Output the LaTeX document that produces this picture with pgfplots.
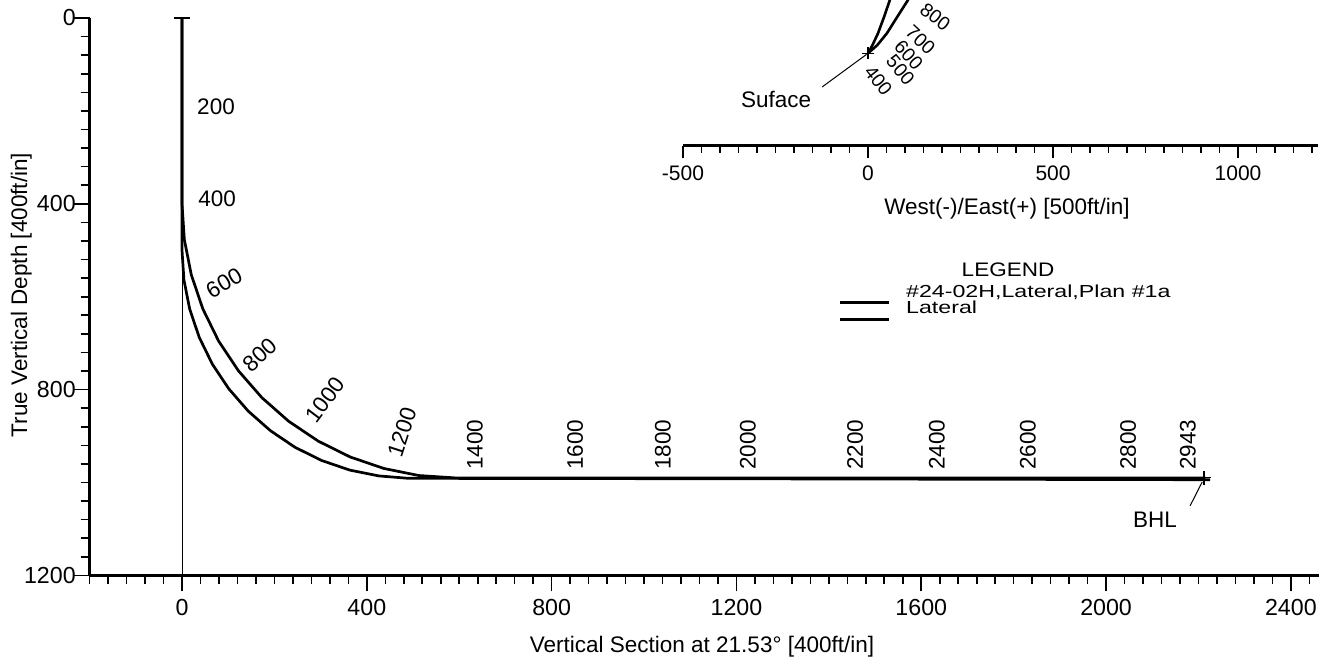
\documentclass[border=0pt]{standalone}
\usepackage{fontspec}
\setmainfont{Liberation Sans}
\usepackage{graphicx}
\usepackage{pgfplots}
\pgfplotsset{compat=1.18}
\begin{document}
\fontsize{11.25}{13.5}\selectfont
\begin{tikzpicture}
\path[use as bounding box] (0,0) rectangle (659.5pt,-329pt);
% ---------------- main vertical section ----------------
\begin{axis}[
  at={(44.8pt,-9pt)}, anchor=north west,
  scale only axis, width=614.5pt, height=278.7pt,
  xmin=-200, xmax=2460, ymin=0, ymax=1200, y dir=reverse,
  axis x line=bottom, axis y line=left,
  axis line style={line width=1.5pt, -},
  xtick={0,400,...,2400}, ytick={0,400,800,1200},
  minor xtick={-200,-160,...,2440}, minor ytick={0,40,...,1200},
  tick align=outside,
  major tick length=8pt, minor tick length=4.5pt,
  every tick/.style={black, line width=0.8pt},
  tick label style={font=\fontsize{11.6}{13}\selectfont},
  yticklabel style={xshift=5pt},
  /pgf/number format/assume math mode=true,
  /pgf/number format/1000 sep={},
  clip=false,
  legend style={at={(0.609,0.522)}, anchor=north west, draw=none, fill=none,
    inner sep=0pt, row sep=-1.5pt,
    nodes={inner sep=0pt, font=\fontsize{11.6}{12}\selectfont}},
  legend cell align=left,
  legend image code/.code={\draw[#1] (0pt,-5pt) -- (24.5pt,-5pt);},
]
\addplot[black, line width=0.5pt, forget plot] coordinates {(0,0) (0,1200)};
\addplot[black, line width=1.2pt, forget plot] coordinates {(-17,0) (17,0)};
\addplot[black, line width=1.35pt] coordinates {
 (0,0) (0,400) (5.05,477.0) (20.1,552.7) (44.9,625.8) (79.0,695.0) (121.9,759.2)
 (172.8,817.2) (230.8,868.1) (295.0,911.0) (364.2,945.1) (437.3,969.9)
 (513.0,985.0) (590,990) (2215,990)};
\addlegendentry{\hspace{8pt}\scalebox{1}[0.75]{\#24-02H,Lateral,Plan \#1a}}
\addplot[black, line width=1.35pt] coordinates {
 (0,0) (0,500) (4.19,564.0) (16.7,626.8) (37.3,687.5) (65.6,745.0) (101.3,798.3)
 (143.5,846.5) (191.7,888.7) (245.0,924.4) (302.5,952.7) (363.2,973.3)
 (426.0,985.8) (490,991) (1200,992) (2225,994)};
\addlegendentry{\hspace{8pt}\scalebox{1}[0.75]{Lateral}}
\addplot[black, only marks, mark=+, mark size=3.5pt, mark options={line width=0.6pt}, forget plot]
  coordinates {(2212,990)};
\addplot[black, line width=0.5pt, forget plot] coordinates {(2182,1050) (2208,999)};
\begin{scope}[every node/.style={font=\fontsize{11.25}{13}\selectfont}]
\node at (axis cs:73.6,191.6) {200};
\node at (axis cs:75.8,389.7) {400};
\node[rotate=30] at (axis cs:91,570.5) {600};
\node[rotate=42] at (axis cs:169,725.5) {800};
\node[rotate=53] at (axis cs:309.5,822.4) {1000};
\node[rotate=72] at (axis cs:476,891.3) {1200};
\node[rotate=90, anchor=west, inner sep=0pt] at (axis cs:634,973) {1400};
\node[rotate=90, anchor=west, inner sep=0pt] at (axis cs:851,973) {1600};
\node[rotate=90, anchor=west, inner sep=0pt] at (axis cs:1041,973) {1800};
\node[rotate=90, anchor=west, inner sep=0pt] at (axis cs:1225,973) {2000};
\node[rotate=90, anchor=west, inner sep=0pt] at (axis cs:1457,973) {2200};
\node[rotate=90, anchor=west, inner sep=0pt] at (axis cs:1634,973) {2400};
\node[rotate=90, anchor=west, inner sep=0pt] at (axis cs:1831,973) {2600};
\node[rotate=90, anchor=west, inner sep=0pt] at (axis cs:2048,973) {2800};
\node[rotate=90, anchor=west, inner sep=0pt] at (axis cs:2177,973) {2943};
\node at (axis cs:2106,1080) {BHL};
\end{scope}
\end{axis}
% ---------------- plan view inset ----------------
\begin{axis}[
  at={(341.5pt,0pt)}, anchor=north west,
  scale only axis, width=317.3pt, height=72.9pt,
  xmin=-500, xmax=1215, ymin=-250, ymax=144,
  axis x line=bottom, axis y line=none,
  axis line style={line width=1.5pt, -},
  xtick={-500,0,500,1000}, minor xtick={-500,-450,...,1200}, ytick=\empty,
  tick align=outside,
  major tick length=6.3pt, minor tick length=3.5pt,
  every tick/.style={black, line width=0.8pt},
  tick label style={font=\fontsize{10.5}{12}\selectfont},
  /pgf/number format/assume math mode=true,
  /pgf/number format/1000 sep={},
]
\addplot[black, line width=1.3pt] coordinates {(0,0) (12,22) (27,54) (44,100) (59,144) (61,150)};
\addplot[black, line width=1.3pt] coordinates {(0,0) (25,22) (51,54) (80,100) (108,144) (111,150)};
\addplot[black, line width=0.5pt] coordinates {(-124,-91) (-4,-3)};
\addplot[black, only marks, mark=+, mark size=3pt, mark options={line width=0.6pt}] coordinates {(0,0)};
\begin{scope}[every node/.style={font=\fontsize{9.6}{11}\selectfont, inner sep=0pt}]
\node[rotate=-38] at (axis cs:182,98) {800};
\node[rotate=-43] at (axis cs:142,36) {700};
\node[rotate=-48] at (axis cs:110,-5) {600};
\node[rotate=-50] at (axis cs:88,-45) {500};
\node[rotate=-52] at (axis cs:28,-74) {400};
\end{scope}
\node[font=\fontsize{11.25}{13}\selectfont] at (axis cs:-248.6,-126) {Suface};
\end{axis}
% ---------------- titles, legend heading ----------------
\node[anchor=base] at (351pt,-326pt) {Vertical Section at 21.53° [400ft/in]};
\node[rotate=90, anchor=base] at (13.5pt,-147.5pt) {True Vertical Depth [400ft/in]};
\node[anchor=base] at (503.5pt,-107.5pt) {West(-)/East(+) [500ft/in]};
\node at (504pt,-135pt) {\scalebox{1}[0.87]{LEGEND}};
\end{tikzpicture}
\end{document}
